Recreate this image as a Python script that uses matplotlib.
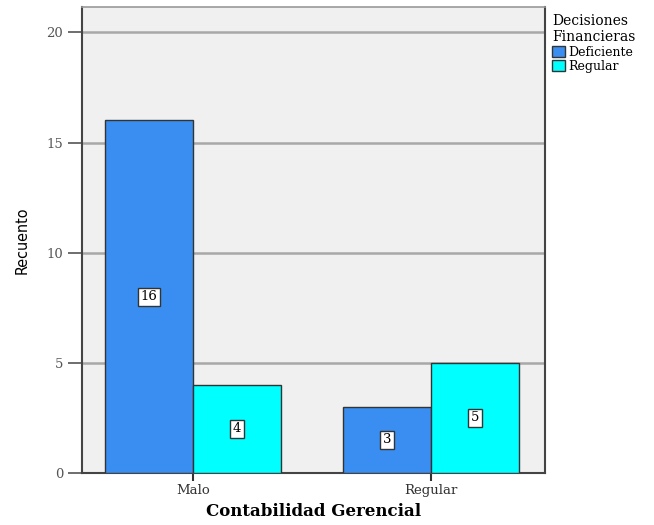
import numpy as np
import matplotlib.pyplot as plt

categories = ['Malo', 'Regular']
series_names = ['Deficiente', 'Regular']
deficiente = [16, 3]
regular = [4, 5]
colors = ['#3a8ef2', '#00ffff']

plt.rcParams['font.family'] = ['DejaVu Serif']

fig = plt.figure(figsize=(6.54, 5.25), dpi=100)
ax = fig.add_axes([82 / 654, 52 / 525, (545 - 82) / 654, (473 - 7) / 525])
ax.set_facecolor('#f0f0f0')

x = np.arange(len(categories))
w = 0.37
groups = [deficiente, regular]
for i, (vals, name) in enumerate(zip(groups, series_names)):
    pos = x + (i - 0.5) * w
    bars = ax.bar(pos, vals, width=w, color=colors[i], edgecolor='#333333',
                  linewidth=1.0, label=name, zorder=3)
    # count label in a white box at the middle of each bar
    for b, v in zip(bars, vals):
        ax.text(b.get_x() + b.get_width() / 2, v / 2, str(v), ha='center', va='center',
                fontsize=9.5, zorder=4,
                bbox=dict(boxstyle='square,pad=0.2', fc='white', ec='#333333', lw=1.0))

ax.set_xlim(-0.466, 1.479)
ax.set_ylim(0, 21.15)
ax.set_yticks([0, 5, 10, 15, 20])
ax.yaxis.grid(True, color='#a8a8a8', linewidth=1.8, zorder=0)
ax.set_axisbelow(True)
ax.set_xticks(x)
ax.set_xticklabels(categories, fontsize=9.5)
ax.tick_params(axis='y', labelsize=9.5, colors='#555555', length=10, width=1.2)
ax.tick_params(axis='x', length=6, width=1.5, colors='#333333', pad=2)
for s in ['left', 'bottom', 'right']:
    ax.spines[s].set_linewidth(1.5)
    ax.spines[s].set_color('#444444')
ax.spines['top'].set_linewidth(1.2)
ax.spines['top'].set_color('#999999')

ax.set_xlabel('Contabilidad Gerencial', fontsize=12, fontweight='bold', labelpad=4)
ax.set_ylabel('Recuento', fontsize=11.5, family='DejaVu Sans', stretch='condensed',
              labelpad=12)

leg = ax.legend(title='Decisiones\nFinancieras',
                loc='upper left', bbox_to_anchor=(1.01, 0.99), frameon=False,
                fontsize=9, title_fontsize=10, handlelength=1.0, handleheight=1.0,
                handletextpad=0.3, borderaxespad=0, labelspacing=0.1, borderpad=0.2)
leg._legend_box.align = 'left'
for h in leg.legend_handles:
    h.set_edgecolor('#333333')

fig.savefig('out.png', dpi=100)
